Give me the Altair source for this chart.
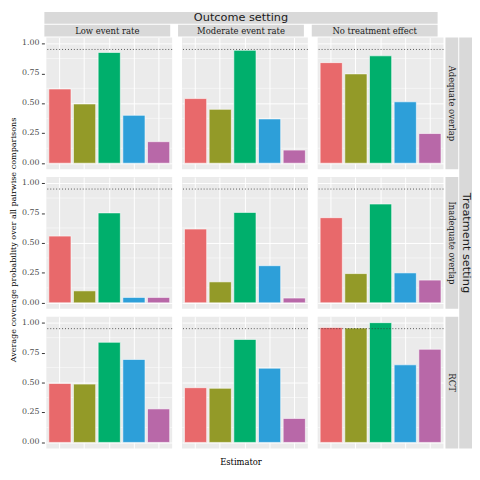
import altair as alt
import pandas as pd

outcome_settings = ["Low event rate", "Moderate event rate", "No treatment effect"]
treatment_settings = ["Adequate overlap", "Inadequate overlap", "RCT"]
estimators = ["Estimator 1", "Estimator 2", "Estimator 3", "Estimator 4", "Estimator 5"]
bar_colors = ["#E8696B", "#939A28", "#00AF6C", "#2D9FD9", "#B868A8"]

# coverage values: rows = treatment setting, columns = outcome setting
cov_adequate_low = [0.62, 0.495, 0.925, 0.40, 0.18]
cov_adequate_moderate = [0.54, 0.45, 0.943, 0.37, 0.11]
cov_adequate_none = [0.84, 0.746, 0.897, 0.513, 0.248]
cov_inadequate_low = [0.557, 0.10, 0.751, 0.045, 0.045]
cov_inadequate_moderate = [0.616, 0.175, 0.755, 0.31, 0.04]
cov_inadequate_none = [0.711, 0.244, 0.825, 0.25, 0.19]
cov_rct_low = [0.492, 0.487, 0.836, 0.693, 0.28]
cov_rct_moderate = [0.457, 0.452, 0.86, 0.62, 0.20]
cov_rct_none = [0.96, 0.955, 1.0, 0.648, 0.778]

nominal_level = 0.95
y_ticks = [0.0, 0.25, 0.5, 0.75, 1.0]
y_tick_labels = ["0.00", "0.25", "0.50", "0.75", "1.00"]
y_minor = [0.125, 0.375, 0.625, 0.875]

outer_col_title = "Outcome setting"
outer_row_title = "Treatment setting"
y_title = "Average coverage probability over all pairwise comparisons"
x_title = "Estimator"

grid_values = [
    [cov_adequate_low, cov_adequate_moderate, cov_adequate_none],
    [cov_inadequate_low, cov_inadequate_moderate, cov_inadequate_none],
    [cov_rct_low, cov_rct_moderate, cov_rct_none],
]

PW, PH = 128, 134
STRIP = 13
AXW = 26
SERIF = "DejaVu Serif"
SANS = "DejaVu Sans"
NOVIEW = alt.ViewBackground(fill="transparent", strokeWidth=0)


def yscale():
    return alt.Scale(domain=[-0.05, 1.05], nice=False, zero=False)


def panel(values):
    df = pd.DataFrame({"estimator": estimators, "coverage": values})
    xscale = alt.Scale(domain=estimators, paddingInner=0.1, paddingOuter=0.1)
    yaxis = alt.Axis(values=y_ticks, grid=True, gridColor="white", gridWidth=1,
                     domain=False, ticks=False, labels=False)
    xaxis = alt.Axis(grid=True, gridColor="white", gridWidth=1, domain=False,
                     ticks=False, labels=False, bandPosition=0.5)

    minor = alt.Chart(pd.DataFrame({"coverage": y_minor})).mark_rule(
        color="white", strokeWidth=0.5
    ).encode(y=alt.Y("coverage:Q", scale=yscale(), title=None))

    bars = alt.Chart(df).mark_bar(stroke="white", strokeWidth=0.6).encode(
        x=alt.X("estimator:N", scale=xscale, axis=xaxis, title=None, sort=estimators),
        y=alt.Y("coverage:Q", scale=yscale(), axis=yaxis, title=None),
        y2=alt.datum(0),
        color=alt.Color("estimator:N", scale=alt.Scale(domain=estimators, range=bar_colors),
                        legend=None),
    )

    hline = alt.Chart(pd.DataFrame({"coverage": [nominal_level]})).mark_rule(
        color="#333333", strokeWidth=0.8, strokeDash=[1, 2]
    ).encode(y=alt.Y("coverage:Q", scale=yscale(), title=None))

    return alt.layer(minor, bars, hline).properties(
        width=PW, height=PH,
        view=alt.ViewBackground(fill="#EBEBEB", strokeWidth=0),
    )


def axis_chart():
    yaxis = alt.Axis(values=y_ticks, grid=False, domain=False, labels=False,
                     ticks=True, tickColor="#333333", tickSize=3,
                     offset=-AXW, orient="left")
    df = pd.DataFrame({"coverage": y_ticks, "label": y_tick_labels})
    labels = alt.Chart(df).mark_text(
        font=SERIF, fontSize=8, color="#4D4D4D", align="right", baseline="middle"
    ).encode(
        x=alt.value(AXW - 5),
        y=alt.Y("coverage:Q", scale=yscale(), axis=yaxis, title=None),
        text="label:N",
    )
    return labels.properties(width=AXW, height=PH, view=NOVIEW)


def strip(text, w, h, angle=0, font=SERIF, size=8.6):
    df = pd.DataFrame({"label": [text]})
    return alt.Chart(df).mark_text(
        font=font, fontSize=size, color="#1A1A1A", angle=angle,
        align="center", baseline="middle"
    ).encode(
        x=alt.value(w / 2), y=alt.value(h / 2), text="label:N"
    ).properties(width=w, height=h, view=alt.ViewBackground(fill="#D9D9D9", strokeWidth=0))


def plain_text(text, w, h, cx, angle=0, size=8.3):
    df = pd.DataFrame({"label": [text]})
    return alt.Chart(df).mark_text(
        font=SERIF, fontSize=size, color="black", angle=angle,
        align="center", baseline="middle"
    ).encode(
        x=alt.value(cx), y=alt.value(h / 2), text="label:N"
    ).properties(width=w, height=h, view=NOVIEW)


grid_w = 3 * PW + 2 * 8

top_block = alt.hconcat(
    plain_text("", AXW, 25, AXW / 2),
    alt.vconcat(
        strip(outer_col_title, grid_w, 12, font=SANS, size=11.5),
        alt.hconcat(*[strip(t, PW, 12) for t in outcome_settings], spacing=8),
        spacing=1,
    ),
    spacing=0,
)

rows = []
for i, row_vals in enumerate(grid_values):
    panels = alt.hconcat(*[panel(v) for v in row_vals], spacing=8)
    rows.append(
        alt.hconcat(
            axis_chart(),
            alt.hconcat(panels, strip(treatment_settings[i], STRIP, PH, angle=90), spacing=1),
            spacing=0,
        )
    )

rows_block = alt.hconcat(
    alt.vconcat(*rows, spacing=8),
    strip(outer_row_title, STRIP, 3 * PH + 16, angle=90, font=SANS, size=11.5),
    spacing=1,
)

main_block = alt.vconcat(
    alt.vconcat(top_block, rows_block, spacing=1),
    plain_text(x_title, AXW + grid_w, 12, AXW + grid_w / 2, size=8.5),
    spacing=8,
)

chart = alt.hconcat(
    plain_text(y_title, 10, 464, 5, angle=270, size=8.2),
    main_block,
    spacing=0, padding=0, background="white",
).configure_view(strokeWidth=0)

chart.save("out.html", embed_options={"renderer": "svg", "actions": False})
